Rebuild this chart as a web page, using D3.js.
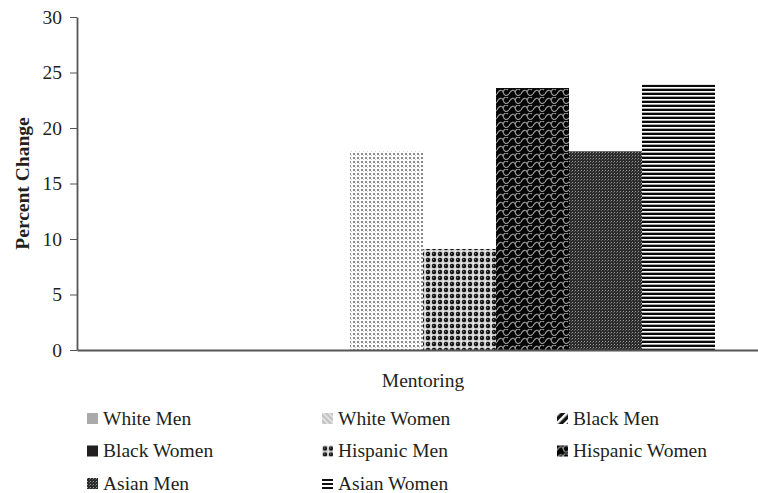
<!DOCTYPE html>
<html>
<head>
<meta charset="utf-8">
<script src="https://cdn.jsdelivr.net/npm/d3@7"></script>
<style>
  body { margin: 0; background: #fff; }
  svg text { font-family: "Liberation Serif", "Times New Roman", serif; fill: #231f20; font-size: 19.5px; }
</style>
</head>
<body>
<div id="chart"></div>
<script>
const categories = ["Mentoring"];
const seriesNames = ["White Men", "White Women", "Black Men", "Black Women",
                     "Hispanic Men", "Hispanic Women", "Asian Men", "Asian Women"];
// percent change per series for the one category
const mentoring = [0, 0, 0, 17.9, 9.1, 23.6, 17.9, 23.9];
const yTicks = [0, 5, 10, 15, 20, 25, 30];

// fill used in the bars and fill used in the legend swatches (they differ in the original)
const barFill = {
  "White Men": "#aaa", "White Women": "url(#pWW)", "Black Men": "url(#pBM)",
  "Black Women": "url(#pDots)", "Hispanic Men": "url(#pSphere)",
  "Hispanic Women": "url(#pWave)", "Asian Men": "url(#pGrid)", "Asian Women": "url(#pHoriz)"
};
const legendFill = {
  "White Men": "#aaa", "White Women": "url(#pWW)", "Black Men": "url(#pBM)",
  "Black Women": "#231f20", "Hispanic Men": "url(#pSphere)",
  "Hispanic Women": "url(#pWave)", "Asian Men": "url(#pGrid)", "Asian Women": "url(#pHorizL)"
};

const width = 758, height = 493;
const margin = {top: 17, right: -11, bottom: 143, left: 77};
const innerW = width - margin.left - margin.right,
      innerH = height - margin.top - margin.bottom;

const svg = d3.select("#chart")
              .append("svg")
              .attr("width", width)
              .attr("height", height);

// patterns
const defs = svg.append("defs");
function pattern(id, w, h) {
  return defs.append("pattern").attr("id", id)
             .attr("patternUnits", "userSpaceOnUse")
             .attr("width", w).attr("height", h);
}
let p = pattern("pDots", 4, 4);
p.append("rect").attr("width", 4).attr("height", 4).attr("fill", "#fff");
p.append("rect").attr("width", 2).attr("height", 2).attr("fill", "#8a8a8a");
p.append("rect").attr("x", 2).attr("y", 2).attr("width", 1).attr("height", 1).attr("fill", "#c8c8c8");

p = pattern("pSphere", 6, 6);
p.append("rect").attr("width", 6).attr("height", 6).attr("fill", "#d4d4d4");
p.append("circle").attr("cx", 3).attr("cy", 3).attr("r", 2.2).attr("fill", "#111");
p.append("rect").attr("x", 2).attr("y", 2).attr("width", 1.2).attr("height", 1.2).attr("fill", "#777");
p.append("rect").attr("x", 0).attr("y", 0).attr("width", 1).attr("height", 1).attr("fill", "#fff");

p = pattern("pWave", 12, 8);
p.append("rect").attr("width", 12).attr("height", 8).attr("fill", "#050505");
p.append("path").attr("d", "M0,5 C2,1 5,0 6,3 S9,8 12,5")
  .attr("fill", "none").attr("stroke", "#9a9a9a").attr("stroke-width", 1.1);
p.append("path").attr("d", "M6,3 C7,0 9,-1 11,1")
  .attr("fill", "none").attr("stroke", "#9a9a9a").attr("stroke-width", 1.1);

p = pattern("pGrid", 3, 3);
p.append("rect").attr("width", 3).attr("height", 3).attr("fill", "#2b2b2b");
p.append("rect").attr("width", 1).attr("height", 1).attr("fill", "#9a9a9a");
p.append("rect").attr("x", 2).attr("y", 1).attr("width", 1).attr("height", 1).attr("fill", "#5a5a5a");

p = pattern("pHoriz", 4, 4);
p.append("rect").attr("width", 4).attr("height", 4).attr("fill", "#fff");
p.append("rect").attr("width", 4).attr("height", 2).attr("fill", "#0a0a0a");
p.append("rect").attr("y", 3).attr("width", 4).attr("height", 1).attr("fill", "#aaa");

p = pattern("pHorizL", 4, 4);
p.append("rect").attr("width", 4).attr("height", 4).attr("fill", "#fff");
p.append("rect").attr("y", 1).attr("width", 4).attr("height", 2).attr("fill", "#111");

p = pattern("pWW", 4, 4).attr("patternTransform", "rotate(-45)");
p.append("rect").attr("width", 4).attr("height", 4).attr("fill", "#c4c4c4");
p.append("rect").attr("width", 1.3).attr("height", 4).attr("fill", "#eee");

p = pattern("pBM", 6, 6).attr("patternTransform", "rotate(45)");
p.append("rect").attr("width", 6).attr("height", 6).attr("fill", "#111");
p.append("rect").attr("width", 2.5).attr("height", 6).attr("fill", "#fff");

const g = svg.append("g")
             .attr("transform", `translate(${margin.left}, ${margin.top})`);

const x0 = d3.scaleBand()
             .domain(categories)
             .range([0, innerW]);

const x1 = d3.scaleBand()
             .domain(seriesNames)
             .range([0, x0.bandwidth()])
             .paddingOuter(0.74);

const y = d3.scaleLinear()
            .domain([0, 30])
            .range([innerH, 0]);

// bars
const rows = categories.map((c, ci) => ({cat: c, vals: seriesNames.map((s, si) => ({s, v: [mentoring][ci][si]}))}));
g.selectAll(".cat")
 .data(rows)
 .join("g")
 .attr("transform", d => `translate(${x0(d.cat)}, 0)`)
 .selectAll("rect")
 .data(d => d.vals)
 .join("rect")
 .attr("x", d => x1(d.s))
 .attr("width", x1.bandwidth())
 .attr("y", d => y(d.v))
 .attr("height", d => innerH - y(d.v))
 .attr("fill", d => barFill[d.s]);

// y axis
const yAxis = g.append("g")
               .call(d3.axisLeft(y).tickValues(yTicks).tickSize(7).tickSizeOuter(0))
               .attr("font-family", null).attr("font-size", null);
yAxis.select(".domain").attr("stroke", "#555").attr("stroke-width", 1.8);
yAxis.selectAll(".tick line").attr("stroke", "#555").attr("stroke-width", 1);
yAxis.selectAll(".tick text")
     .attr("x", -15)
     .attr("fill", null);

// x axis
const xAxis = g.append("g")
               .attr("transform", `translate(0, ${innerH})`)
               .call(d3.axisBottom(x0).tickSize(0).tickSizeOuter(0))
               .attr("font-family", null).attr("font-size", null);
xAxis.select(".domain").attr("stroke", "#555").attr("stroke-width", 1.8);
xAxis.selectAll(".tick text")
     .attr("y", 23)
     .attr("fill", null);

// y title
svg.append("text")
   .attr("transform", `translate(29, ${margin.top + innerH / 2}) rotate(-90)`)
   .attr("text-anchor", "middle")
   .style("font-weight", "bold")
   .text("Percent Change");

// legend
const legend = svg.append("g")
                  .selectAll("g")
                  .data(seriesNames)
                  .join("g")
                  .attr("transform", (d, i) => `translate(${87 + (i % 3) * 235}, ${413 + Math.floor(i / 3) * 32.5})`);
legend.append("rect")
      .attr("width", 11).attr("height", 11)
      .attr("fill", d => legendFill[d]);
legend.append("text")
      .attr("x", 16).attr("y", 11.5)
      .text(d => d);
</script>
</body>
</html>
